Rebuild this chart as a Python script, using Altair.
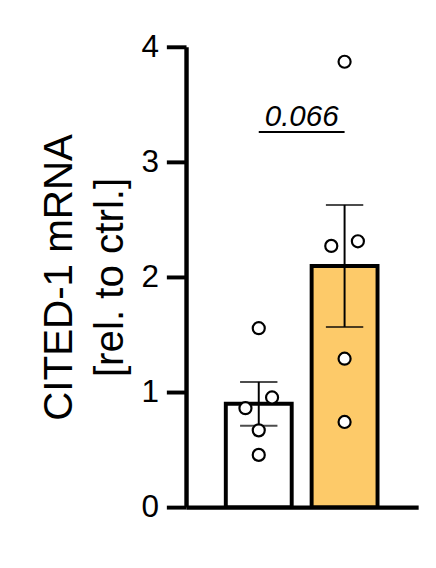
import altair as alt
import pandas as pd

groups = ["ctrl", "treat"]
group_idx = [0, 1]
means = [0.898, 2.096]
sems = [0.19, 0.53]
bar_colors = ["#FFFFFF", "#FDCA69"]

point_idx = [0] * 5 + [1] * 5
point_values = [1.555, 0.953, 0.86, 0.667, 0.454, 3.87, 2.27, 2.31, 1.29, 0.74]
point_jitter = [0, 1, -1, 0, 0, 0, -1, 1, 0, 0]

p_label = "0.066"
p_y = 3.31
underline_y = 3.26

bars = pd.DataFrame({"group": groups, "idx": group_idx, "mean": means, "sem": sems})
bars["lo"] = bars["mean"] - bars["sem"]
bars["hi"] = bars["mean"] + bars["sem"]
pts = pd.DataFrame({"idx": point_idx, "value": point_values, "jit": point_jitter})
ann = pd.DataFrame({"a": [group_idx[0]], "b": [group_idx[1]], "label": [p_label], "y": [p_y], "uy": [underline_y]})

FONT = "Liberation Sans"

xscale = alt.Scale(domain=[-0.79, 1.8], nice=False, zero=False)
yscale = alt.Scale(domain=[0, 4], nice=False)

xaxis = alt.Axis(
    labels=False, ticks=False, title=None, grid=False,
    domainWidth=4.5, domainColor="black",
)

bar = alt.Chart(bars).mark_bar(stroke="black", strokeWidth=4, strokeJoin="miter", width=67).encode(
    x=alt.X("idx:Q", scale=xscale, axis=xaxis),
    y=alt.Y(
        "mean:Q",
        scale=yscale,
        axis=alt.Axis(
            values=[0, 1, 2, 3, 4],
            format="d",
            title=["CITED-1 mRNA", "[rel. to ctrl.]"],
            titleFont=FONT,
            titleFontSize=41,
            titleFontWeight="normal",
            titleColor="black",
            titlePadding=10,
            titleLineHeight=52,
            labelFont=FONT,
            labelFontSize=32,
            labelColor="black",
            labelPadding=8,
            tickSize=20,
            tickWidth=4,
            tickColor="black",
            domainWidth=4.5,
            domainColor="black",
            grid=False,
        ),
    ),
    color=alt.Color("group:N", scale=alt.Scale(domain=groups, range=bar_colors), legend=None),
)

err = alt.Chart(bars).mark_rule(color="black", strokeWidth=2).encode(
    x=alt.X("idx:Q", scale=xscale), y=alt.Y("lo:Q", scale=yscale), y2="hi:Q"
)
cap_hi = alt.Chart(bars).mark_tick(color="black", thickness=2, size=38, orient="horizontal").encode(
    x=alt.X("idx:Q", scale=xscale), y=alt.Y("hi:Q", scale=yscale)
)
cap_lo = alt.Chart(bars).mark_tick(color="black", thickness=2, size=38, orient="horizontal").encode(
    x=alt.X("idx:Q", scale=xscale), y=alt.Y("lo:Q", scale=yscale)
)

points = alt.Chart(pts).transform_calculate(
    px="datum.idx + datum.jit * 0.155"
).mark_point(
    shape="circle", filled=True, fill="white", stroke="black", strokeWidth=2.2, size=150, opacity=1
).encode(
    x=alt.X("px:Q", scale=xscale),
    y=alt.Y("value:Q", scale=yscale),
)

underline = alt.Chart(ann).mark_rule(color="black", strokeWidth=2).encode(
    x=alt.X("a:Q", scale=xscale), x2="b:Q", y=alt.Y("uy:Q", scale=yscale)
)
text = alt.Chart(ann).transform_calculate(
    mid="(datum.a + datum.b) / 2"
).mark_text(
    font=FONT, fontSize=30, fontStyle="italic", color="black", align="center", baseline="alphabetic"
).encode(x=alt.X("mid:Q", scale=xscale), y=alt.Y("y:Q", scale=yscale), text="label:N")

chart = alt.layer(bar, err, cap_hi, cap_lo, points, underline, text).properties(
    width=236,
    height=468,
    autosize=alt.AutoSizeParams(type="none"),
    padding={"left": 181, "top": 35, "right": 10, "bottom": 30},
    background="white",
).configure_view(stroke=None)

chart.save("out.html", embed_options={"renderer": "svg", "actions": False})
